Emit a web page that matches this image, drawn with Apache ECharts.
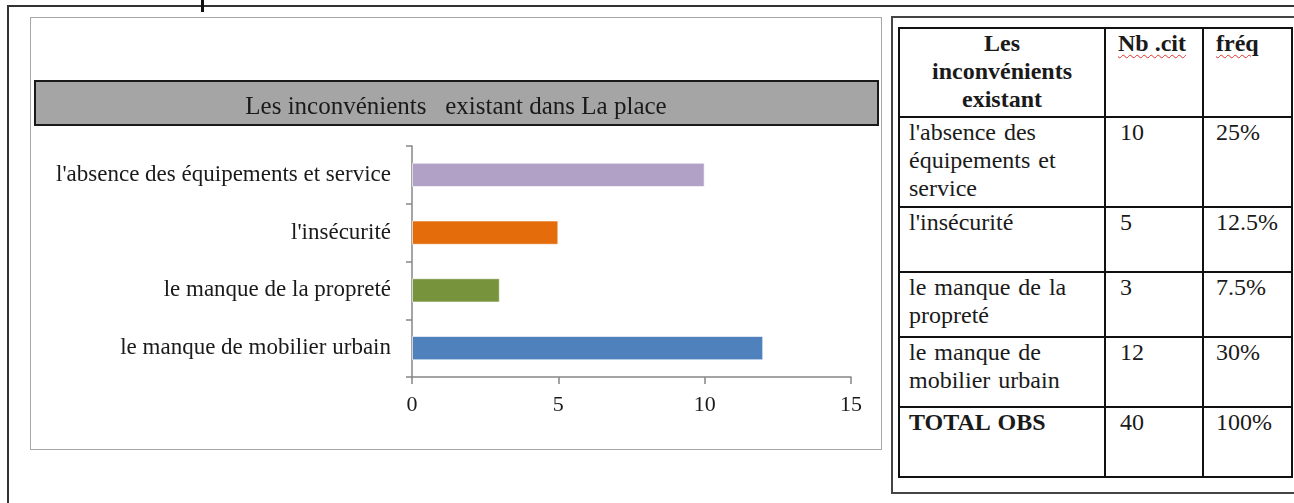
<!DOCTYPE html>
<html>
<head>
<meta charset="utf-8">
<script src="https://cdn.jsdelivr.net/npm/echarts@6/dist/echarts.min.js"></script>
<style>
  html, body { margin: 0; padding: 0; background: #fff; }
  body { width: 1294px; height: 503px; position: relative; overflow: hidden;
         font-family: "Liberation Serif", "Times New Roman", serif; color: #1a1a1a; }
  .page_frame { position: absolute; left: 7px; top: 5px; width: 1300px; height: 510px;
                border-top: 2px solid #333; border-left: 2px solid #333; }
  .cursor_mark { position: absolute; left: 201px; top: 0; width: 3px; height: 12px; background: #111; }
  #chartBox { position: absolute; left: 30px; top: 17px; width: 850px; height: 431px;
              border: 1px solid #a6a6a6; background: #fff; }
  .table_frame { position: absolute; left: 891px; top: 16px; width: 420px; height: 474px;
                 border: 2px solid #444; background: #fff; }
  table { position: absolute; left: 898px; top: 27px; border-collapse: collapse;
          table-layout: fixed; font-size: 24px; line-height: 28px; }
  td { border: 2px solid #111; vertical-align: top; padding: 0 4px 0 9px; overflow: hidden; }
  td.num { padding-left: 14px; }
  td.freq { padding-left: 12px; padding-right: 0; }
  td.lab { word-spacing: 2px; }
  th { border: 2px solid #111; vertical-align: top; padding: 0 4px 0 12px; text-align: left; font-weight: bold; }
  th.first { text-align: center; padding: 0 22px; }
  .spell { text-decoration: underline wavy #e03030; text-decoration-thickness: 1px; text-underline-offset: 3px; }
  .bold { font-weight: bold; }
</style>
</head>
<body>
<div class="page_frame"></div>
<div class="cursor_mark"></div>
<div id="chartBox"></div>
<div class="table_frame"></div>
<table id="dataTable"></table>

<script>
// données du graphique (de bas en haut sur l'axe)
const categories = ['le manque de mobilier urbain', 'le manque de la propreté', "l'insécurité", "l'absence des équipements et service"]
const counts = [12, 3, 5, 10]
const barColors = ['#4f81bd', '#77933c', '#e46c0a', '#b2a1c7']
const xMin = 0
const xMax = 15
const xStep = 5

// données du tableau (de haut en bas)
const tableHeaders = ['Les inconvénients existant', 'Nb .cit', 'fréq']
const tableLabels = ["l'absence des équipements et service", "l'insécurité", 'le manque de la propreté', 'le manque de mobilier urbain', 'TOTAL OBS']
const tableCounts = [10, 5, 3, 12, 40]
const tableFreqs = ['25%', '12.5%', '7.5%', '30%', '100%']

const serif = '"Liberation Serif", "Times New Roman", serif'

// construire le tableau
const buildTable = () => {
  const table = document.getElementById('dataTable')
  const colWidths = [206, 98, 89]
  const rowHeights = [89, 90, 65, 65, 70, 70]
  let html = '<colgroup>' + colWidths.map(w => `<col style="width:${w}px">`).join('') + '</colgroup>'
  html += `<tr style="height:${rowHeights[0]}px">` +
    `<th class="first">${tableHeaders[0]}</th>` +
    `<th><span class="spell">${tableHeaders[1]}</span></th>` +
    `<th><span class="spell">${tableHeaders[2]}</span></th></tr>`
  tableLabels.forEach((label, i) => {
    const isTotal = i === tableLabels.length - 1
    html += `<tr style="height:${rowHeights[i + 1]}px">` +
      `<td class="lab${isTotal ? ' bold' : ''}">${label}</td>` +
      `<td class="num">${tableCounts[i]}</td>` +
      `<td class="freq">${tableFreqs[i]}</td></tr>`
  })
  table.innerHTML = html
}

// initialiser le graphique
const initChart = () => {
  const chart = echarts.init(document.getElementById('chartBox'))
  const option = {
    animation: false,
    graphic: [{
      type: 'rect',
      left: 3,
      top: 62,
      z: 0,
      shape: { width: 843, height: 44 },
      style: { fill: '#a5a5a5', stroke: '#1a1a1a', lineWidth: 2 }
    }],
    title: {
      text: 'Les inconvénients   existant dans La place',
      left: 'center',
      top: 72,
      z: 10,
      textStyle: {
        fontFamily: serif,
        fontSize: 25,
        fontWeight: 'normal',
        color: '#1a1a1a'
      }
    },
    grid: {
      left: 381,
      top: 128,
      width: 439,
      height: 231,
      containLabel: false
    },
    xAxis: {
      type: 'value',
      min: xMin,
      max: xMax,
      interval: xStep,
      splitLine: { show: false },
      axisLine: { show: true, lineStyle: { color: '#868686', width: 1.5 } },
      axisTick: { show: true, length: 7, lineStyle: { color: '#868686', width: 1.5 } },
      axisLabel: { margin: 17, fontFamily: serif, fontSize: 22, color: '#1a1a1a' }
    },
    yAxis: {
      type: 'category',
      data: categories,
      axisLine: { show: true, lineStyle: { color: '#868686', width: 1.5 } },
      axisTick: { show: true, length: 6, lineStyle: { color: '#868686', width: 1.5 } },
      axisLabel: { margin: 21, fontFamily: serif, fontSize: 23, color: '#1a1a1a' }
    },
    series: [{
      type: 'bar',
      barWidth: '42%',
      data: counts.map((v, i) => ({
        value: v,
        itemStyle: { color: barColors[i], borderColor: 'rgba(255,255,255,0.6)', borderWidth: 1 }
      }))
    }]
  }
  chart.setOption(option)
}

buildTable()
initChart()
</script>
</body>
</html>
